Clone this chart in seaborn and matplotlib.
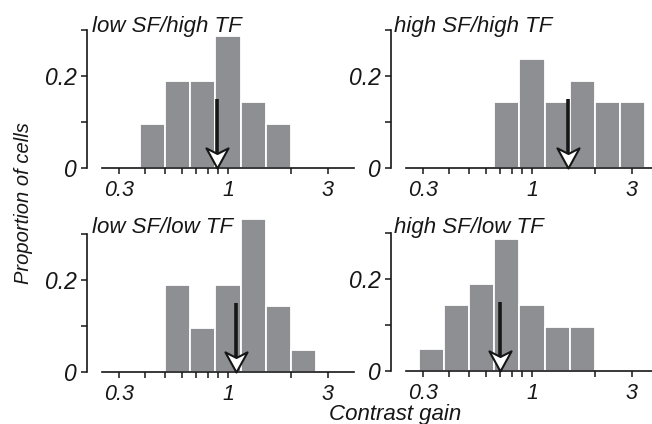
import numpy as np
import pandas as pd
import matplotlib
matplotlib.use("Agg")
import matplotlib.pyplot as plt
from matplotlib.path import Path
import seaborn as sns

# ---------------- data ----------------
bin_edges = [0.287, 0.379, 0.5, 0.66, 0.871, 1.149, 1.516, 2.0, 2.639, 3.482]

panel_titles = ["low SF/high TF", "high SF/high TF", "low SF/low TF", "high SF/low TF"]

lsht_gain = [0.435, 0.574, 0.758, 1.0, 1.32, 1.74]
lsht_prop = [0.095, 0.190, 0.190, 0.286, 0.143, 0.095]

hsht_gain = [0.758, 1.0, 1.32, 1.74, 2.30, 3.03]
hsht_prop = [0.143, 0.238, 0.143, 0.190, 0.143, 0.143]

lslt_gain = [0.574, 0.758, 1.0, 1.32, 1.74, 2.30]
lslt_prop = [0.190, 0.095, 0.190, 0.333, 0.143, 0.048]

hslt_gain = [0.33, 0.435, 0.574, 0.758, 1.0, 1.32, 1.74]
hslt_prop = [0.048, 0.143, 0.190, 0.286, 0.143, 0.095, 0.095]

median_gain = [0.885, 1.48, 1.09, 0.706]
arrow_top = [0.15, 0.15, 0.15, 0.15]

x_major = [0.3, 1, 3]
x_major_labels = ["0.3", "1", "3"]
x_minor = [0.4, 0.5, 0.6, 0.7, 0.8, 0.9, 2]
y_ticks = [0, 0.1, 0.2, 0.3]
y_tick_labels = ["0", "", "0.2", ""]

# ---------------- style ----------------
sns.set_theme(style="ticks")
plt.rcParams["font.family"] = ["Liberation Sans", "DejaVu Sans"]
plt.rcParams["font.style"] = "italic"

W, H = 652, 424
fig = plt.figure(figsize=(W / 100, H / 100), dpi=100)

bar_color = "#8e8f93"
ink = "#161616"
px = 0.72  # points per pixel at 100 dpi


def ax_rect(left_px, zero_px, width_px, height_px):
    return [left_px / W, (H - zero_px) / H, width_px / W, height_px / H]


ymax = 0.35
unit = 46.0  # pixels per 0.1
axes_info = [
    (102, 168, lsht_gain, lsht_prop),
    (406, 168, hsht_gain, hsht_prop),
    (102, 372, lslt_gain, lslt_prop),
    (406, 371, hslt_gain, hslt_prop),
]

log_bins = [float(v) for v in np.log10(bin_edges)]

# arrowhead marker (tip at origin, notched back)
head = Path([(0, 0), (-0.55, 1), (0, 0.72), (0.55, 1), (0, 0)],
            [Path.MOVETO, Path.LINETO, Path.LINETO, Path.LINETO, Path.CLOSEPOLY])

for i, (lp, zp, gains, props) in enumerate(axes_info):
    ax = fig.add_axes(ax_rect(lp, zp, 252, ymax * 10 * unit))
    df = pd.DataFrame({"gain": gains, "prop": props})
    sns.histplot(data=df, x="gain", weights="prop", bins=log_bins,
                 log_scale=True, stat="count", color=bar_color, alpha=1.0,
                 edgecolor="white", linewidth=1.3, ax=ax)
    ax.set_xlim(0.25, 4)
    ax.set_ylim(0, ymax)
    ax.set_xlabel("")
    ax.set_ylabel("")
    ax.set_xticks(x_major)
    ax.set_xticklabels(x_major_labels)
    ax.set_xticks(x_minor, minor=True)
    ax.set_xticklabels([], minor=True)
    ax.set_yticks(y_ticks)
    ax.set_yticklabels(y_tick_labels)
    for s in ["top", "right"]:
        ax.spines[s].set_visible(False)
    ax.spines["left"].set_bounds(0, 0.3)
    ax.spines["left"].set_position(("outward", 15 * px))
    for s in ["left", "bottom"]:
        ax.spines[s].set_color(ink)
        ax.spines[s].set_linewidth(1.2)
    ax.tick_params(axis="both", which="both", direction="out", length=6 * px,
                   width=1.1, color=ink, labelcolor=ink)
    ax.tick_params(axis="x", which="both", pad=4, labelsize=15.5)
    ax.tick_params(axis="y", which="both", pad=3, labelsize=16.5)
    ax.patch.set_alpha(0)

    # median arrow
    mx = median_gain[i]
    ax.plot([mx, mx], [arrow_top[i], 0.03], color=ink, lw=3.6 * px,
            solid_capstyle="butt", zorder=5)
    ax.plot([mx], [0], marker=head, markersize=29, markerfacecolor="white",
            markeredgecolor=ink, markeredgewidth=1.5, clip_on=False,
            zorder=6, linestyle="none")

# panel titles
title_pos = [(92, 32), (394, 32), (92, 233), (394, 233)]
for (tx, ty), t in zip(title_pos, panel_titles):
    fig.text(tx / W, 1 - ty / H, t, fontsize=16, ha="left", va="baseline",
             color=ink)

fig.text(24 / W, 1 - 203 / H, "Proportion of cells", rotation=90, fontsize=14.5,
         ha="center", va="center", color=ink)
fig.text(395 / W, 1 - 420 / H, "Contrast gain", fontsize=16, ha="center",
         va="baseline", color=ink)

fig.savefig("out.png", dpi=100)
